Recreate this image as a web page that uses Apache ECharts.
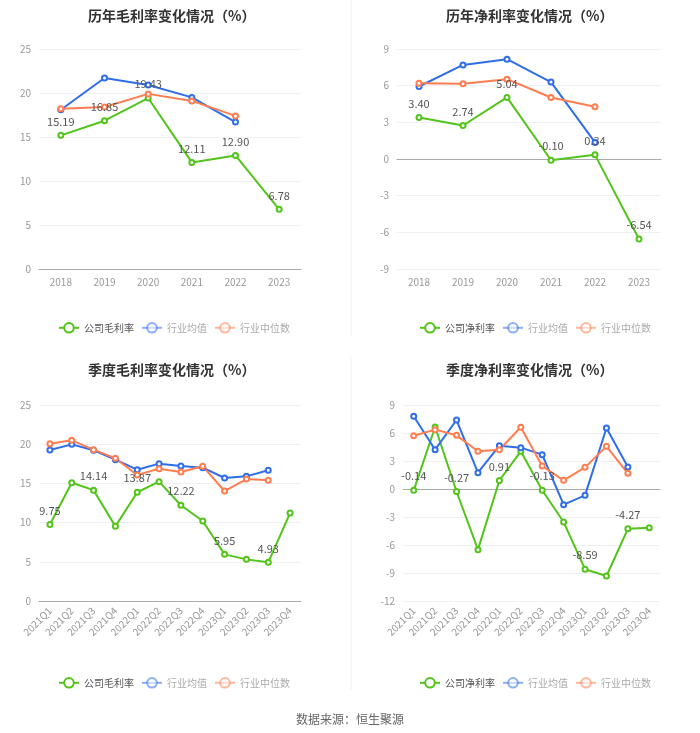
<!DOCTYPE html>
<html>
<head>
<meta charset="utf-8">
<script src="https://cdn.jsdelivr.net/npm/echarts@6/dist/echarts.min.js"></script>
<style>
  html, body { margin: 0; padding: 0; background: #fff; }
  #main { width: 700px; height: 733px; }
</style>
</head>
<body>
<div id="main"></div>
<script>
// 年度数据
const years = ['2018', '2019', '2020', '2021', '2022', '2023'];
const yearGross = [15.19, 16.85, 19.43, 12.11, 12.90, 6.78];
const yearGrossAvg = [18.1, 21.7, 20.9, 19.5, 16.7, null];
const yearGrossMed = [18.2, 18.4, 19.9, 19.1, 17.4, null];
const yearNet = [3.40, 2.74, 5.04, -0.10, 0.34, -6.54];
const yearNetAvg = [5.93, 7.7, 8.17, 6.29, 1.36, null];
const yearNetMed = [6.2, 6.15, 6.53, 5.03, 4.27, null];

// 季度数据
const quarters = ['2021Q1', '2021Q2', '2021Q3', '2021Q4', '2022Q1', '2022Q2',
  '2022Q3', '2022Q4', '2023Q1', '2023Q2', '2023Q3', '2023Q4'];
const qGross = [9.75, 15.09, 14.14, 9.52, 13.87, 15.22, 12.22, 10.2, 5.95, 5.31, 4.93, 11.22];
const qGrossAvg = [19.26, 19.98, 19.22, 18.03, 16.75, 17.52, 17.22, 17.0, 15.69, 15.9, 16.67, null];
const qGrossMed = [20.07, 20.49, 19.3, 18.2, 16.07, 16.88, 16.45, 17.18, 14.03, 15.56, 15.39, null];
const qNet = [-0.14, 6.64, -0.27, -6.5, 0.91, 4.04, -0.13, -3.54, -8.59, -9.32, -4.27, -4.14];
const qNetAvg = [7.79, 4.21, 7.39, 1.75, 4.64, 4.43, 3.68, -1.68, -0.68, 6.54, 2.36, null];
const qNetMed = [5.71, 6.36, 5.75, 4.04, 4.21, 6.61, 2.46, 0.93, 2.32, 4.57, 1.68, null];

const GREEN = '#52c41a';
const BLUE = '#2f6ee8';
const ORANGE = '#ff7d4f';
const FONT = '"Noto Sans CJK SC", "Noto Sans", sans-serif';

const chart = echarts.init(document.getElementById('main'));

const grids = [
  { left: 39, top: 49, width: 262, height: 220 },
  { left: 397, top: 49, width: 264, height: 220 },
  { left: 39, top: 405, width: 262, height: 196 },
  { left: 403, top: 405, width: 257, height: 196 }
];

const xAxisOf = (idx, data, rotate) => ({
  type: 'category',
  gridIndex: idx,
  data: data,
  boundaryGap: true,
  axisLine: { lineStyle: { color: '#aaa' } },
  axisTick: { alignWithLabel: true, length: 5, lineStyle: { color: '#aaa' } },
  axisLabel: { color: '#999', fontSize: 10, interval: 0, rotate: rotate, margin: 8, fontFamily: FONT }
});

const yAxisOf = (idx, min, max, interval) => ({
  type: 'value',
  gridIndex: idx,
  min: min,
  max: max,
  interval: interval,
  axisLine: { show: false },
  axisTick: { show: false },
  splitLine: { lineStyle: { color: '#eef0f6' } },
  axisLabel: { color: '#999', fontSize: 10, margin: 8, fontFamily: FONT }
});

// 只在隔一个点显示标签
const everyOther = (arr) => arr.map((v, i) => ({ value: v, label: { show: i % 2 === 0 } }));

const lineOf = (name, idx, data, color, withLabel) => ({
  name: name,
  type: 'line',
  xAxisIndex: idx,
  yAxisIndex: idx,
  data: data,
  symbol: 'emptyCircle',
  symbolSize: 5,
  connectNulls: false,
  lineStyle: { width: 2, color: color },
  itemStyle: { color: color },
  label: withLabel ? {
    show: true,
    position: 'top',
    color: '#555',
    fontSize: 11,
    fontFamily: FONT,
    formatter: (p) => Number(p.value).toFixed(2)
  } : { show: false },
  emphasis: { disabled: true }
});

const legendOf = (first, left, top) => ({
  left: left,
  top: top,
  itemWidth: 20,
  itemHeight: 12,
  itemGap: 7,
  textStyle: { fontSize: 10, color: '#555', fontFamily: FONT },
  data: [
    { name: first },
    { name: '行业均值', textStyle: { color: '#aaa' }, itemStyle: { opacity: 0.55 }, lineStyle: { opacity: 0.55 } },
    { name: '行业中位数', textStyle: { color: '#aaa' }, itemStyle: { opacity: 0.55 }, lineStyle: { opacity: 0.55 } }
  ]
});

const titleOf = (text, left, top) => ({
  text: text,
  left: left,
  top: top,
  textStyle: { fontSize: 14, fontWeight: 'bold', color: '#333', fontFamily: FONT }
});

const option = {
  animation: false,
  backgroundColor: '#fff',
  title: [
    titleOf('历年毛利率变化情况（%）', 83, 4),
    titleOf('历年净利率变化情况（%）', 441, 4),
    titleOf('季度毛利率变化情况（%）', 83, 358),
    titleOf('季度净利率变化情况（%）', 441, 358),
    {
      text: '数据来源：恒生聚源',
      left: 'center',
      top: 708,
      textStyle: { fontSize: 12, fontWeight: 'normal', color: '#666', fontFamily: FONT }
    }
  ],
  legend: [
    legendOf('公司毛利率', 53, 317),
    legendOf('公司净利率', 414, 317),
    legendOf('公司毛利率', 53, 672),
    legendOf('公司净利率', 414, 672)
  ],
  grid: grids,
  xAxis: [
    xAxisOf(0, years, 0),
    xAxisOf(1, years, 0),
    xAxisOf(2, quarters, 45),
    xAxisOf(3, quarters, 45)
  ],
  yAxis: [
    yAxisOf(0, 0, 25, 5),
    yAxisOf(1, -9, 9, 3),
    yAxisOf(2, 0, 25, 5),
    yAxisOf(3, -12, 9, 3)
  ],
  series: [
    lineOf('公司毛利率', 0, yearGross, GREEN, true),
    lineOf('行业均值', 0, yearGrossAvg, BLUE, false),
    lineOf('行业中位数', 0, yearGrossMed, ORANGE, false),

    lineOf('公司净利率', 1, yearNet, GREEN, true),
    lineOf('行业均值', 1, yearNetAvg, BLUE, false),
    lineOf('行业中位数', 1, yearNetMed, ORANGE, false),

    lineOf('公司毛利率', 2, everyOther(qGross), GREEN, true),
    lineOf('行业均值', 2, qGrossAvg, BLUE, false),
    lineOf('行业中位数', 2, qGrossMed, ORANGE, false),

    lineOf('公司净利率', 3, everyOther(qNet), GREEN, true),
    lineOf('行业均值', 3, qNetAvg, BLUE, false),
    lineOf('行业中位数', 3, qNetMed, ORANGE, false)
  ],
  graphic: [
    { type: 'line', shape: { x1: 351, y1: 0, x2: 351, y2: 336 }, style: { stroke: '#f0f0f0', lineWidth: 1 } },
    { type: 'line', shape: { x1: 351, y1: 356, x2: 351, y2: 690 }, style: { stroke: '#f0f0f0', lineWidth: 1 } }
  ]
};

chart.setOption(option);
</script>
</body>
</html>
